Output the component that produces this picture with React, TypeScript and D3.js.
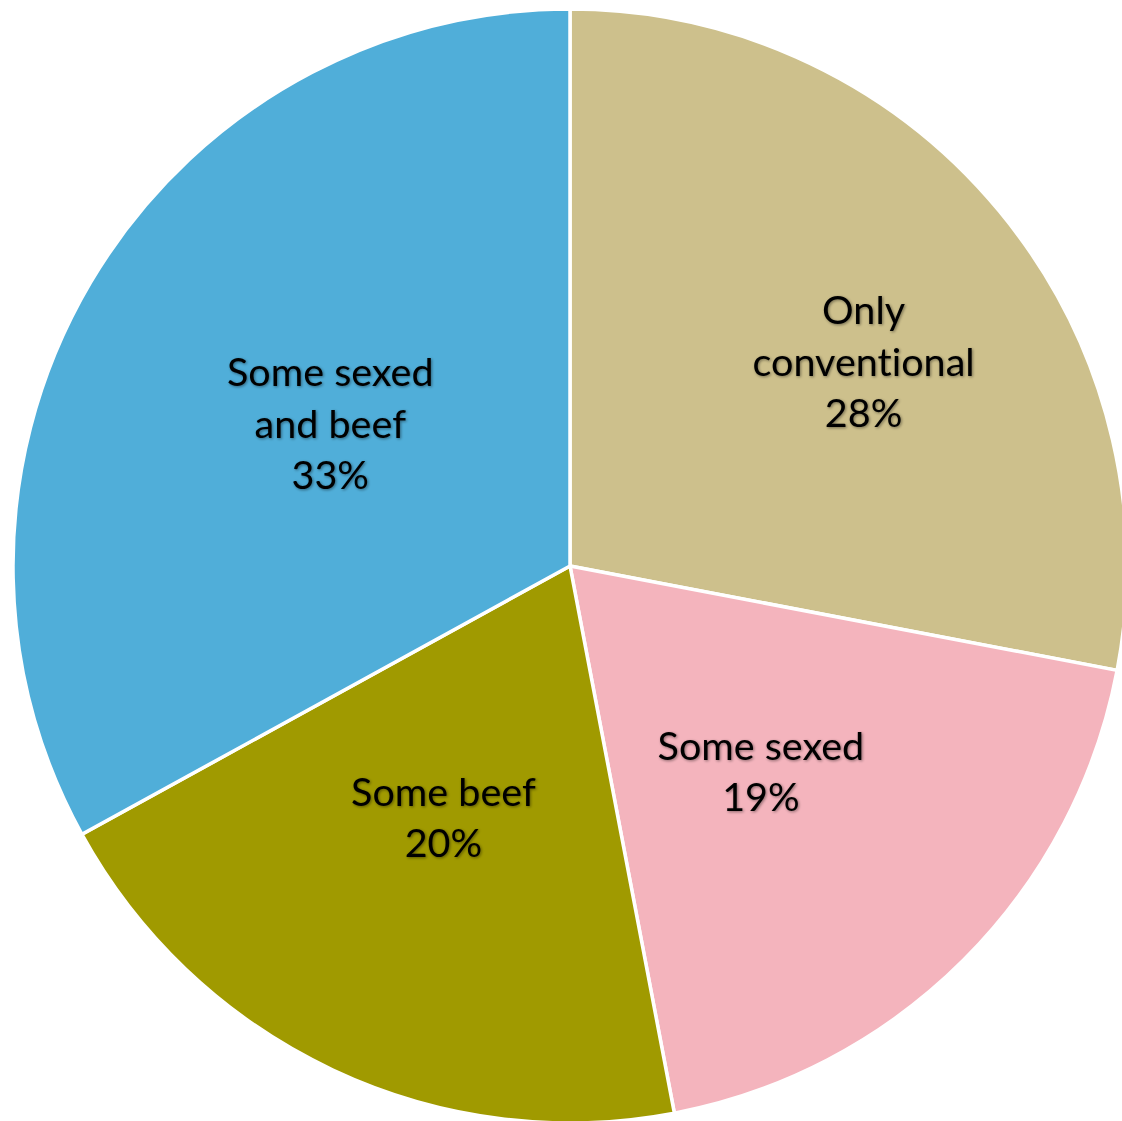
import React from "react";
import * as d3 from "d3";

// Share of farms by semen type used
const categories = ["Only conventional", "Some sexed", "Some beef", "Some sexed and beef"];
const shares = [28, 19, 20, 33];
const labelLines = [["Only", "conventional"], ["Some sexed"], ["Some beef"], ["Some sexed", "and beef"]];
const colors = ["#CDC08C", "#F4B4BD", "#A09A00", "#50AED9"];

const W = 1122;
const H = 1121;
const CX = 570;
const CY = 566;
const R = 557;
const LINE_H = 51.5;
const CAP_HALF = 13.5;

// Nudge for labels that need to sit away from the default centroid
const labelNudge: [number, number][] = [[79, -26], [-6, 9], [-8, 0], [0, 0]];

export default function App() {
  const data = categories.map((c, i) => ({ name: c, value: shares[i], lines: labelLines[i], color: colors[i] }));
  const pie = d3.pie<any>().value((d) => d.value).sort(null);
  const arcs = pie(data);
  const arc = d3.arc<any>().innerRadius(0).outerRadius(R);
  const labelArc = d3.arc<any>().innerRadius(R * 0.5).outerRadius(R * 0.5);

  return (
    <svg
      width={W}
      height={H}
      style={{ position: "absolute", left: 0, top: 0, background: "#fff" }}
    >
      <defs>
        <filter id="txtShadow" x="-10%" y="-20%" width="120%" height="140%">
          <feGaussianBlur in="SourceAlpha" stdDeviation="1.6" result="b" />
          <feOffset in="b" dx="0.5" dy="0.8" result="o" />
          <feComponentTransfer in="o" result="s">
            <feFuncA type="linear" slope="0.45" />
          </feComponentTransfer>
          <feMerge>
            <feMergeNode in="s" />
            <feMergeNode in="SourceGraphic" />
          </feMerge>
        </filter>
      </defs>
      <g transform={`translate(${CX},${CY})`}>
        {arcs.map((a, i) => (
          <path key={i} d={arc(a) as string} fill={a.data.color} stroke="#fff" strokeWidth={3.5} strokeLinejoin="miter" />
        ))}
        {arcs.map((a, i) => {
          const [x0, y0] = labelArc.centroid(a);
          const x = x0 + labelNudge[i][0];
          const y = y0 + labelNudge[i][1];
          const lines = [...a.data.lines, `${a.data.value}%`];
          const n = lines.length;
          return (
            <text
              key={i}
              textAnchor="middle"
              fontFamily="Lato, 'Open Sans', sans-serif"
              fontSize={39.5}
              fill="#000"
              filter="url(#txtShadow)"
              style={{ fontVariantLigatures: "none", fontFeatureSettings: "'liga' 0, 'clig' 0" }}
            >
              {lines.map((t, j) => (
                <tspan key={j} x={x} y={y + (j - (n - 1) / 2) * LINE_H + CAP_HALF}>
                  {t}
                </tspan>
              ))}
            </text>
          );
        })}
      </g>
    </svg>
  );
}
